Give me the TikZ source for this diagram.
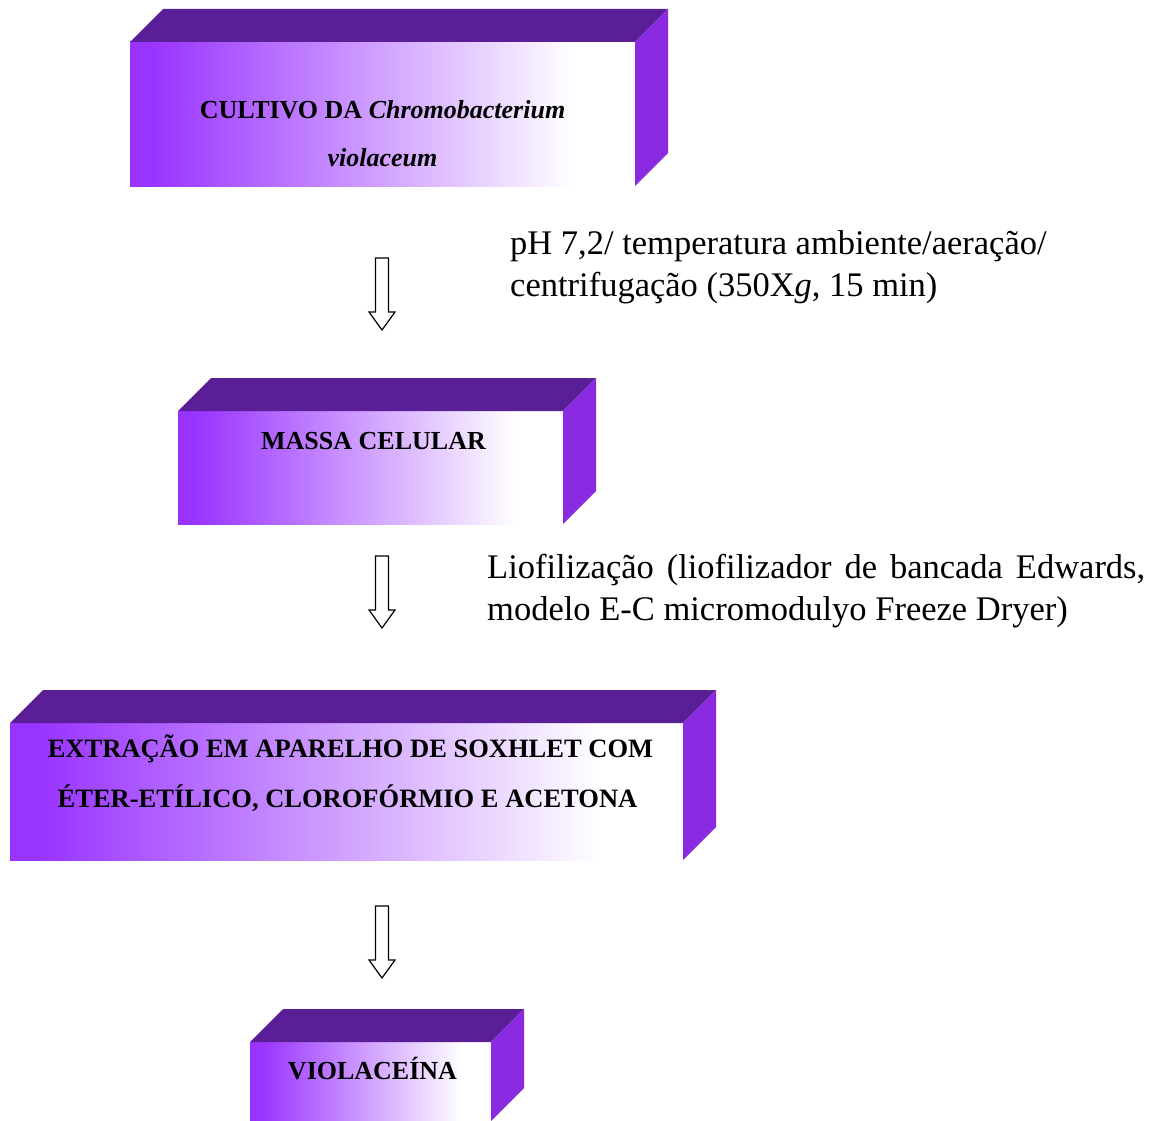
\documentclass[tikz,border=0pt]{standalone}
\usepackage{fontspec}
\setmainfont{Liberation Serif}
\definecolor{vleft}{RGB}{153,51,255}
\definecolor{vtop}{RGB}{90,30,150}
\definecolor{vside}{RGB}{138,43,226}
\pgfdeclarehorizontalshading{boxgrad}{100bp}{color(0bp)=(vleft); color(27bp)=(vleft); color(69bp)=(white); color(100bp)=(white)}
\newcommand\boxfaces[1]{%
  \fill[vtop] (#1.north west) -- ([shift={(33,-33)}]#1.north west) -- ([shift={(33,-33)}]#1.north east) -- (#1.north east) -- cycle;
  \fill[vside] (#1.north east) -- ([shift={(33,-33)}]#1.north east) -- ([shift={(33,-33)}]#1.south east) -- (#1.south east) -- cycle;}
\begin{document}
\begin{tikzpicture}[x=1pt,y=-1pt,
  front/.style={shade, shading=boxgrad, inner sep=0pt, outer sep=0pt},
  boxtext/.style={font=\fontsize{26}{30}\selectfont\bfseries, anchor=base, inner sep=0pt},
  bodytext/.style={font=\fontsize{34.5}{42}\selectfont, inner sep=0pt},
  downarrow/.pic={\draw[line width=1.2pt, line join=miter] (-6.5,0) -- (-6.5,54) -- (-13,54) -- (0,72) -- (13,54) -- (6.5,54) -- (6.5,0) -- cycle;}]
\useasboundingbox (0,0) rectangle (1162,1121);
% boxes
\node[front, minimum width=505pt, minimum height=144pt] (b1) at (382.5,114) {};
\boxfaces{b1}
\node[front, minimum width=385pt, minimum height=113pt] (b2) at (370.5,467.5) {};
\boxfaces{b2}
\node[front, minimum width=673pt, minimum height=137pt] (b3) at (346.5,791.5) {};
\boxfaces{b3}
\node[front, minimum width=241pt, minimum height=79pt] (b4) at (370.5,1081.5) {};
\boxfaces{b4}
% box texts
\node[boxtext] (t1a) at (382.5,119) {CULTIVO DA \textit{Chromobacterium}};
\node[boxtext] (t1b) at (382.5,166) {\textit{violaceum}};
\node[boxtext] (t2) at (373.5,449) {MASSA CELULAR};
\node[boxtext, font=\fontsize{26.5}{30}\selectfont\bfseries] (t3a) at (350.5,757) {EXTRAÇÃO EM APARELHO DE SOXHLET COM};
\node[boxtext, font=\fontsize{26.5}{30}\selectfont\bfseries] (t3b) at (347.5,807) {ÉTER-ETÍLICO, CLOROFÓRMIO E ACETONA};
\node[boxtext] (t4) at (372.5,1079) {VIOLACEÍNA};
% arrows
\coordinate (a1) at (382,258);
\coordinate (a2) at (382,556);
\coordinate (a3) at (382,906);
\pic at (a1) {downarrow};
\pic at (a2) {downarrow};
\pic at (a3) {downarrow};
% side texts
\node[bodytext, anchor=base west, align=left] (s1) at (510,296) {pH 7,2/ temperatura ambiente/aeração/\\centrifugação (350X\textit{g}, 15 min)};
\node[bodytext, anchor=base west, text width=658pt, align=justify] (s2) at (487,578) {Liofilização (liofilizador de bancada Edwards,\linebreak modelo E-C micromodulyo Freeze Dryer)};
\end{tikzpicture}
\end{document}
